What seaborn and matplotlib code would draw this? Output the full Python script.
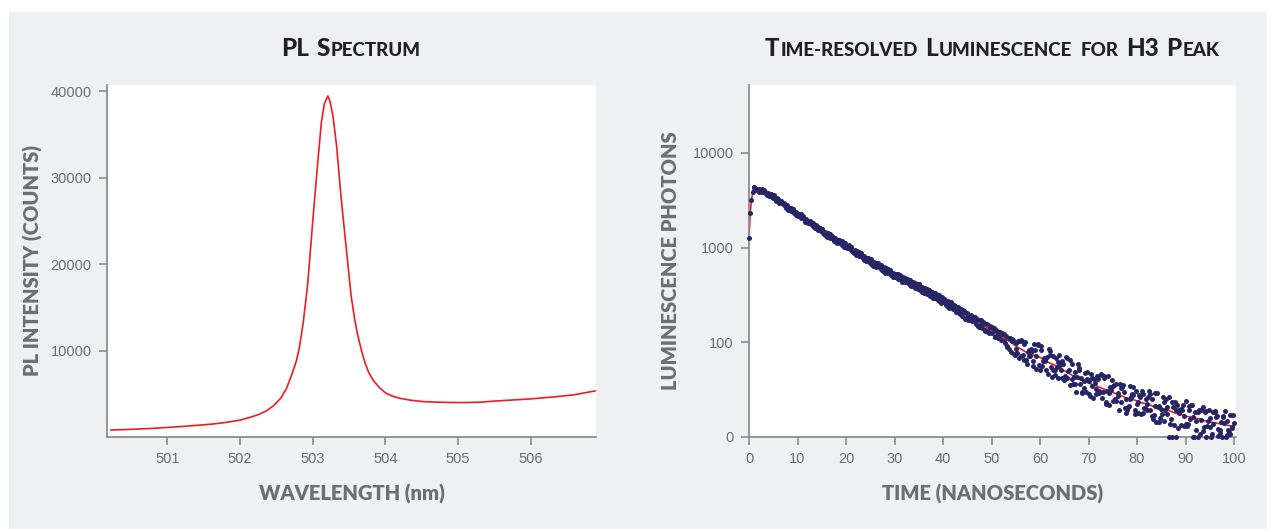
import numpy as np
import pandas as pd
import seaborn as sns
import matplotlib.pyplot as plt
from matplotlib.patches import Rectangle


# Style

sns.set_theme(style="white")
plt.rcParams["font.family"] = ["Liberation Sans", "DejaVu Sans"]

red = "#ed1c24"
navy = "#262566"
gray_text = "#6d6e71"
spine_gray = "#8c8c8c"
title_color = "#231f20"
panel_bg = "#eff0f2"
label_font = ["Lato", "DejaVu Sans"]


# PL spectrum

wavelength = [500.22, 500.5, 500.75, 501.0, 501.3, 501.6, 501.8, 502.0, 502.13,
              502.25, 502.36, 502.46, 502.56, 502.64, 502.72, 502.78, 502.82,
              502.87, 502.93, 503.0, 503.07, 503.12, 503.16, 503.21,
              503.24, 503.28, 503.33, 503.39, 503.46, 503.53, 503.58, 503.62,
              503.67, 503.72, 503.77, 503.83, 503.92, 504.01, 504.1, 504.2,
              504.35, 504.52, 504.75, 505.02, 505.3, 505.5, 505.99, 506.3,
              506.59, 506.89]
pl_counts = [810, 880, 980, 1100, 1280, 1480, 1680, 1950, 2250,
             2580, 3000, 3600, 4480, 5600, 7380, 8900, 10460,
             13200, 17500, 24760, 31700, 36350, 38500, 39430,
             38800, 37120, 33640, 27850, 22050, 16300, 13560, 11800,
             10080, 8600, 7500, 6600, 5700, 5060, 4720, 4480,
             4250, 4090, 4020, 3980, 4020, 4150, 4400, 4620,
             4870, 5330]


# Time-resolved luminescence

ns = np.arange(101)

photons_0 = [1250, 4340, 4180, 3820, 3750, 3350, 3240, 2900, 2530, 2530,
             2230, 2110, 1870, 1810, 1570, 1560, 1380, 1315, 1150, 1155,
             1020, 1005, 870, 845, 760, 755, 645, 645, 568, 572,
             505, 515, 442, 450, 390, 408, 349, 355, 296, 313,
             264, 273, 224, 233, 190, 205, 166, 177, 141, 156,
             124, 136, 106, 116, 90,
             99, 85, 101, 86, 92, 71, 81, 87, 71, 87,
             60, 71, 63, 73, 52, 59, 41, 61, 47, 64,
             38, 46, 53, 29, 45, 35, 49, 29, 40, 16,
             30, 40, 19, 28, 13, 38, 19, 26, 3, 26,
             11, 27, 4, 15, 5, 15]
photons_25 = [2300, 4290, 3990, 3900, 3570, 3480, 3000, 2900, 2615, 2310,
              2270, 1990, 1910, 1670, 1635, 1440, 1415, 1225, 1200, 1055,
              1050, 918, 912, 790, 782, 677, 683, 594, 602, 517,
              530, 456, 473, 406, 426, 358, 371, 311, 330, 275,
              283, 232, 247, 203, 216, 171, 187, 150, 163, 127,
              141, 110, 124, 96, 107,
              89, 102, 77, 91, 86, 96, 71, 74, 83, 71,
              84, 55, 69, 56, 68, 43, 57, 46, 62, 46,
              55, 29, 47, 33, 53, 37, 25, 42, 19, 32,
              42, 24, 0, 34, 28, 12, 34, 7, 18, 27,
              0, 21, 16, 0, 23]
photons_50 = [3150, 4200, 4085, 3690, 3660, 3230, 3100, 2745, 2625, 2300,
              2215, 1940, 1900, 1665, 1595, 1405, 1380, 1220, 1205, 1050,
              1025, 895, 890, 777, 780, 674, 666, 573, 588, 509,
              527, 454, 462, 396, 416, 357, 368, 310, 322, 268,
              281, 234, 244, 197, 211, 170, 186, 146, 160, 126,
              140, 110, 122, 93, 105,
              104, 87, 90, 75, 98, 75, 84, 63, 74, 80,
              62, 77, 47, 62, 48, 66, 51, 66, 37, 53,
              40, 56, 31, 40, 24, 44, 31, 49, 23, 33,
              17, 0, 32, 9, 34, 14, 21, 0, 32, 12,
              3, 22, 0, 17, 10]
photons_75 = [3850, 4160, 3855, 3775, 3385, 3370, 2925, 2830, 2425, 2350,
              2070, 2020, 1775, 1720, 1490, 1450, 1265, 1260, 1105, 1105,
              955, 942, 815, 818, 705, 710, 616, 622, 533, 542,
              468, 488, 419, 434, 369, 383, 321, 340, 284, 300,
              245, 256, 208, 225, 180, 193, 155, 170, 133, 147,
              115, 129, 99, 111, 87,
              83, 98, 85, 98, 76, 83, 93, 71, 62, 77,
              70, 56, 77, 46, 61, 54, 64, 41, 49, 60,
              38, 52, 25, 42, 49, 24, 40, 28, 46, 20,
              28, 14, 37, 25, 12, 28, 0, 29, 11, 29,
              14, 1, 21, 7, 23]
photons_125 = [4330, 3905, 4015, 3500, 3585, 2965, 2985, 2485, 2525, 2140,
               2150, 1795, 1830, 1525, 1575, 1305, 1340, 1115, 1175, 978,
               1012, 833, 871, 729, 756, 623, 656, 544, 583, 484,
               514, 428, 458, 378, 408, 331, 358, 290, 312,
               286, 235, 238, 209, 218, 184, 186, 149, 156, 133,
               144, 119, 122, 95, 103,
               93, 105, 81, 93, 72, 92, 80, 91, 65, 76,
               64, 81, 56, 71, 59, 45, 61, 49, 64, 34,
               54, 43, 55, 32, 44, 25, 45, 35, 22, 46,
               24, 32, 37, 0, 30, 14, 34, 17, 28, 0,
               20, 26, 7, 27, 3]
photons_625 = [4100, 4120, 3575, 3690, 3130, 3130, 2630, 2645, 2205, 2255,
               1880, 1915, 1595, 1625, 1345, 1395, 1170, 1215, 1015, 1053,
               866, 906, 745, 784, 646, 684, 561, 592, 494, 527,
               435, 470, 388, 415, 342, 368, 300, 322, 262,
               247, 263, 218, 221, 177, 189, 166, 172, 136, 145,
               114, 128, 104, 112, 88,
               102, 81, 92, 80, 97, 80, 67, 86, 79, 62,
               83, 61, 63, 48, 69, 62, 45, 65, 35, 50,
               56, 37, 40, 54, 28, 42, 31, 45, 33, 16,
               37, 42, 13, 28, 22, 33, 0, 26, 6, 17,
               26, 8, 22, 2, 11]

fit_t = [0, 0.25, 0.5, 0.75] + list(range(1, 101))
fit_photons = [1250, 2300, 3150, 3850,
               4340, 4150, 3900, 3680, 3450, 3150, 2900, 2640, 2430, 2250,
               2070, 1910, 1760, 1620, 1500, 1390, 1290, 1200, 1120, 1040,
               965, 895, 830, 775, 720, 670, 625, 585, 550, 520,
               490, 460, 432, 410, 385, 360, 338, 315, 295, 275,
               255, 236, 220, 204, 190, 177, 165, 153, 143, 133,
               124, 115, 107, 100, 96, 93, 90, 88, 86, 84,
               81, 78, 76, 73, 70, 67, 64, 61, 59, 57,
               55, 53, 51, 49, 47, 45, 43, 41, 40, 38,
               36, 35, 33, 31, 30, 29, 27, 25, 24, 22,
               21, 20, 19, 17, 16, 15, 14, 13, 12, 11]

df_decay = pd.DataFrame({
    "t": np.concatenate([ns, ns[:100] + 0.25, ns[:100] + 0.5, ns[:100] + 0.75,
                         ns[1:100] + 0.125, ns[1:100] + 0.625]),
    "photons": (photons_0 + photons_25 + photons_50 + photons_75
                + photons_125 + photons_625),
})


# Figure

fig = plt.figure(figsize=(12.76, 5.29), dpi=100)
fig.patch.set_facecolor("white")
fig.patches.append(Rectangle((9 / 1276, 0), 1258 / 1276, 517 / 529,
                             transform=fig.transFigure, facecolor=panel_bg,
                             edgecolor="none", zorder=-10))

ax1 = fig.add_axes([107 / 1276, 92 / 529, 489 / 1276, 352 / 529])
ax2 = fig.add_axes([749 / 1276, 92 / 529, 487 / 1276, 352 / 529])

for ax in (ax1, ax2):
    ax.set_facecolor("white")
    for side in ("top", "right"):
        ax.spines[side].set_visible(False)
    for side in ("left", "bottom"):
        ax.spines[side].set_color(spine_gray)
        ax.spines[side].set_linewidth(1.3)
    ax.tick_params(direction="out", length=6, width=1.2, color=spine_gray,
                   labelcolor=gray_text, labelsize=10.5, pad=5,
                   left=True, bottom=True)

label_style = dict(fontsize=14.5, fontweight="heavy", color=gray_text,
                   family=label_font)


# Left: PL spectrum

sns.lineplot(x=wavelength, y=pl_counts, ax=ax1, color=red, linewidth=1.2)
ax1.set_xlim(500.17, 506.9)
ax1.set_ylim(0, 40700)
ax1.set_xticks([501, 502, 503, 504, 505, 506])
ax1.set_yticks([10000, 20000, 30000, 40000])
ax1.set_xticklabels(["501", "502", "503", "504", "505", "506"])
ax1.set_yticklabels(["10000", "20000", "30000", "40000"])
ax1.set_xlabel("WAVELENGTH (nm)", **label_style)
ax1.set_ylabel("PL INTENSITY (COUNTS)", **label_style)
ax1.xaxis.set_label_coords(0.5, -0.133)
ax1.yaxis.set_label_coords(-0.130, 0.5)


# Right: decay

sns.lineplot(x=fit_t, y=fit_photons, ax=ax2, color=red, linewidth=1.2, zorder=2)
sns.scatterplot(data=df_decay, x="t", y="photons", ax=ax2, color=navy,
                s=13, linewidth=0, zorder=3, clip_on=False)
ax2.set_yscale("symlog", linthresh=100, linscale=0.9)
ax2.set_xlim(0, 100.4)
ax2.set_ylim(0, 52000)
ax2.set_xticks(list(range(0, 101, 10)))
ax2.set_xticklabels([str(v) for v in range(0, 101, 10)])
ax2.set_yticks([0, 100, 1000, 10000])
ax2.set_yticklabels(["0", "100", "1000", "10000"])
ax2.minorticks_off()
ax2.set_xlabel("TIME (NANOSECONDS)", **label_style)
ax2.set_ylabel("LUMINESCENCE PHOTONS", **label_style)
ax2.xaxis.set_label_coords(0.5, -0.133)
ax2.yaxis.set_label_coords(-0.141, 0.5)


# Small-caps titles

def small_caps_title(ax, parts, baseline_px, big=17.5, small=13.5):
    renderer = fig.canvas.get_renderer()
    W, H = fig.bbox.width, fig.bbox.height
    placed = []
    x = 0.0
    for text, is_big, space in parts:
        if space:
            x += 0.27 * big * fig.dpi / 72
        t = fig.text(0, 1 - baseline_px / H, text,
                     fontsize=big if is_big else small, fontweight="black",
                     color=title_color, family=label_font, va="baseline")
        placed.append((t, x))
        x += t.get_window_extent(renderer=renderer).width + 1
    bb = ax.get_window_extent(renderer=renderer)
    x0 = (bb.x0 + bb.x1) / 2 - x / 2
    for t, off in placed:
        t.set_x((x0 + off) / W)


small_caps_title(ax1, [("PL", True, False), ("S", True, True),
                       ("PECTRUM", False, False)], 56)
small_caps_title(ax2, [("T", True, False), ("IME-RESOLVED", False, False),
                       ("L", True, True), ("UMINESCENCE", False, False),
                       ("FOR", False, True), ("H3", True, True),
                       ("P", True, True), ("EAK", False, False)], 56)

fig.savefig("out.png", dpi=100)
